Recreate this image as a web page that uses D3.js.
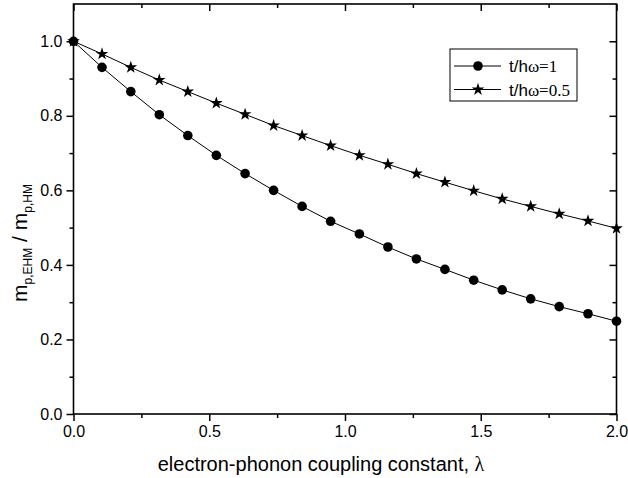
<!DOCTYPE html>
<html>
<head>
<meta charset="utf-8">
<script src="https://cdn.jsdelivr.net/npm/d3@7"></script>
<style>
  html, body { margin: 0; padding: 0; background: #fff; }
  svg { display: block; }
  text { font-family: "Liberation Sans", Arial, sans-serif; fill: #000; }
</style>
</head>
<body>
<svg id="chart" width="628" height="478"></svg>
<script>
// ---- data ----
const lambdaValues = [0, 0.105, 0.211, 0.316, 0.421, 0.526, 0.632, 0.737, 0.842, 0.947,
                      1.053, 1.158, 1.263, 1.368, 1.474, 1.579, 1.684, 1.789, 1.895, 2.0];
const ratioT1 = [1.0, 0.930, 0.865, 0.803, 0.747, 0.694, 0.645, 0.600, 0.557, 0.517,
                 0.483, 0.448, 0.416, 0.388, 0.359, 0.333, 0.309, 0.288, 0.269, 0.249];
const ratioT05 = [1.0, 0.966, 0.930, 0.896, 0.865, 0.834, 0.804, 0.774, 0.747, 0.720,
                  0.694, 0.670, 0.645, 0.622, 0.599, 0.577, 0.557, 0.537, 0.518, 0.498];
const xTicks = [0.0, 0.5, 1.0, 1.5, 2.0];
const xMinorTicks = [0.25, 0.75, 1.25, 1.75];
const yTicks = [0.0, 0.2, 0.4, 0.6, 0.8, 1.0];
const yMinorTicks = [0.1, 0.3, 0.5, 0.7, 0.9];
const seriesNames = ["t/h", "t/h"];
const seriesSuffix = ["ω=1", "ω=0.5"];

// ---- layout ----
const L = 73.5, R = 616.5, T = 4, B = 414;
const svg = d3.select("#chart");
const x = d3.scaleLinear().domain([0, 2.0]).range([L, R]);
const y = d3.scaleLinear().domain([0, 1.1]).range([B, T]);

// frame axes
const majorLen = 7, minorLen = 4;
function fmt(d) { return d.toFixed(1); }

const gB = svg.append("g").attr("transform", `translate(0,${B})`)
  .call(d3.axisBottom(x).tickValues(xTicks).tickFormat(fmt).tickSizeInner(majorLen).tickSizeOuter(0).tickPadding(5));
const gBm = svg.append("g").attr("transform", `translate(0,${B})`)
  .call(d3.axisBottom(x).tickValues(xMinorTicks).tickFormat("").tickSizeInner(minorLen).tickSizeOuter(0));
const gL = svg.append("g").attr("transform", `translate(${L},0)`)
  .call(d3.axisLeft(y).tickValues(yTicks).tickFormat(fmt).tickSizeInner(majorLen).tickSizeOuter(0).tickPadding(4));
const gLm = svg.append("g").attr("transform", `translate(${L},0)`)
  .call(d3.axisLeft(y).tickValues(yMinorTicks).tickFormat("").tickSizeInner(minorLen).tickSizeOuter(0));
// mirrored inward ticks on top and right
const gT = svg.append("g").attr("transform", `translate(0,${T})`)
  .call(d3.axisBottom(x).tickValues(xTicks).tickFormat("").tickSizeInner(majorLen).tickSizeOuter(0));
const gTm = svg.append("g").attr("transform", `translate(0,${T})`)
  .call(d3.axisBottom(x).tickValues(xMinorTicks).tickFormat("").tickSizeInner(minorLen).tickSizeOuter(0));
const gR = svg.append("g").attr("transform", `translate(${R},0)`)
  .call(d3.axisLeft(y).tickValues(yTicks).tickFormat("").tickSizeInner(majorLen).tickSizeOuter(0));
const gRm = svg.append("g").attr("transform", `translate(${R},0)`)
  .call(d3.axisLeft(y).tickValues(yMinorTicks).tickFormat("").tickSizeInner(minorLen).tickSizeOuter(0));

[gB, gBm, gL, gLm, gT, gTm, gR, gRm].forEach(g => {
  g.selectAll(".domain").remove();
  g.selectAll("line").attr("stroke", "#000").attr("stroke-width", 1.5);
  g.selectAll("text").attr("font-size", 16).attr("font-family", "Liberation Sans, Arial, sans-serif").attr("fill", "#000");
});

svg.append("rect").attr("x", L).attr("y", T).attr("width", R - L).attr("height", B - T)
  .attr("fill", "none").attr("stroke", "#000").attr("stroke-width", 1.6);

// ---- series ----
const line = d3.line().x((d, i) => x(lambdaValues[i])).y(d => y(d));
const starSym = d3.symbol().type(d3.symbolStar).size(50);

function drawSeries(vals, kind) {
  svg.append("path").datum(vals).attr("d", line)
    .attr("fill", "none").attr("stroke", "#000").attr("stroke-width", 1);
  const g = svg.append("g");
  vals.forEach((v, i) => {
    if (kind === "circle") {
      g.append("circle").attr("cx", x(lambdaValues[i])).attr("cy", y(v)).attr("r", 4.8).attr("fill", "#000");
    } else {
      g.append("path").attr("d", starSym()).attr("transform", `translate(${x(lambdaValues[i])},${y(v)})`).attr("fill", "#000");
    }
  });
}
drawSeries(ratioT05, "star");
drawSeries(ratioT1, "circle");

// ---- legend ----
const lg = svg.append("g");
lg.append("rect").attr("x", 450).attr("y", 49).attr("width", 127).attr("height", 52)
  .attr("fill", "#fff").attr("stroke", "#000").attr("stroke-width", 1);
const rowsY = [66, 89.5];
["circle", "star"].forEach((kind, k) => {
  const yy = rowsY[k];
  lg.append("line").attr("x1", 454).attr("x2", 501).attr("y1", yy).attr("y2", yy).attr("stroke", "#000").attr("stroke-width", 1);
  if (kind === "circle") lg.append("circle").attr("cx", 478).attr("cy", yy).attr("r", 4.8).attr("fill", "#000");
  else lg.append("path").attr("d", starSym()).attr("transform", `translate(478,${yy})`).attr("fill", "#000");
  const t = lg.append("text").attr("x", 509).attr("y", yy + 6).attr("font-size", 17);
  t.append("tspan").text(seriesNames[k]);
  t.append("tspan").attr("font-family", "Liberation Serif, Times New Roman, serif").attr("font-size", 17).text(seriesSuffix[k]);
});

// ---- axis titles ----
svg.append("text").attr("x", 321).attr("y", 471).attr("text-anchor", "middle").attr("font-size", 20)
  .text("electron-phonon coupling constant, ")
  .append("tspan").attr("font-family", "Liberation Serif, Times New Roman, serif").text("λ");

const yl = svg.append("text").attr("transform", "translate(27,243) rotate(-90)").attr("text-anchor", "middle").attr("font-size", 21);
yl.append("tspan").text("m");
yl.append("tspan").attr("font-size", 12).attr("dy", 5).text("p,EHM");
yl.append("tspan").attr("dy", -5).text(" / m");
yl.append("tspan").attr("font-size", 12).attr("dy", 5).text("p,HM");
</script>
</body>
</html>
